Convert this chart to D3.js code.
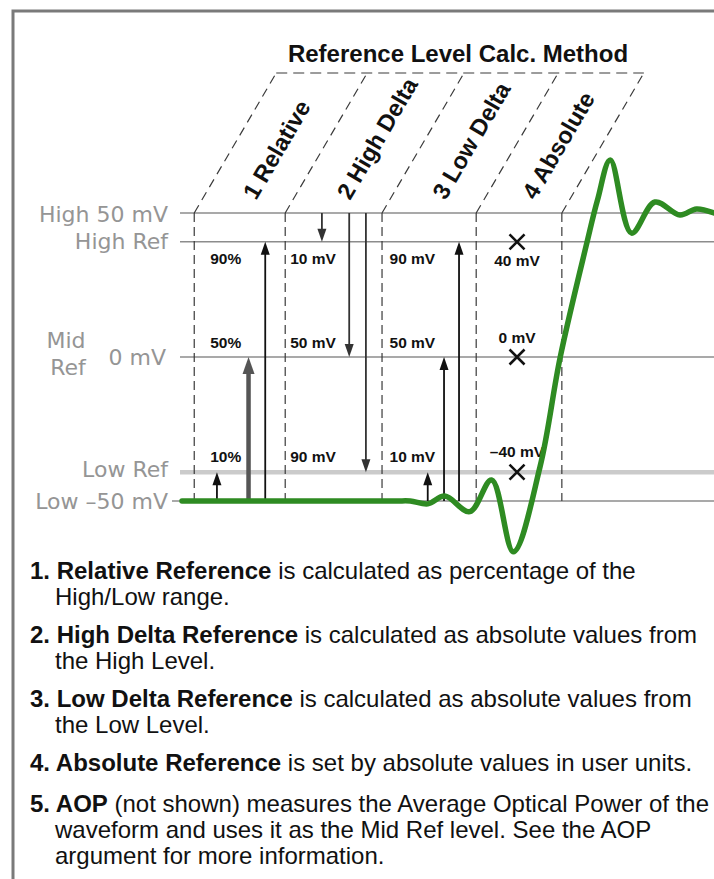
<!DOCTYPE html>
<html><head><meta charset="utf-8">
<script src="https://cdn.jsdelivr.net/npm/d3@7"></script>
<style>html,body{margin:0;padding:0;background:#fff;} svg{display:block;}</style>
</head><body>
<svg id="chart" width="714" height="879"></svg>
<script>
// ---------------- data ----------------
const title = "Reference Level Calc. Method";
const methods = ["1 Relative", "2 High Delta", "3 Low Delta", "4 Absolute"];
const levelLabels = ["High 50 mV", "High Ref", "0 mV", "Low Ref", "Low –50 mV"];
const levelValues = [50, 40, 0, -40, -50];
const refValues = [40, 0, -40];            // High Ref, Mid Ref, Low Ref (mV)
const relativeLabels = ["90%", "50%", "10%"];
const highDeltaLabels = ["10 mV", "50 mV", "90 mV"];
const lowDeltaLabels = ["90 mV", "50 mV", "10 mV"];
const absoluteLabels = ["40 mV", "0 mV", "–40 mV"];
// waveform (time in arbitrary units 0..100, amplitude in mV)
const waveTime = [0, 40, 42.9, 46.2, 49.4, 54.1, 58.2, 62.3, 67.3, 71.1, 76.1, 78.1, 80.5, 84.5, 88.9, 93.6, 96.7, 100];
const waveMv   = [-50, -50, -50, -51, -48.3, -53.7, -42.7, -67.6, -38.1, 0, 39.6, 54.5, 68.4, 43, 53.8, 49.3, 51.4, 50];
// arrows: [from mV, to mV]
const arrowFrom = [-50, -50, -50, 50, 50, 50, -50, -50, -50];
const arrowTo   = [-40, 0, 40, 40, 0, -40, -40, 0, 40];
// notes
const notes = [
  [[["1. ", 1], ["Relative Reference", 1], [" is calculated as percentage of the", 0]], [["High/Low range.", 0]]],
  [[["2. ", 1], ["High Delta Reference", 1], [" is calculated as absolute values from", 0]], [["the High Level.", 0]]],
  [[["3. ", 1], ["Low Delta Reference", 1], [" is calculated as absolute values from", 0]], [["the Low Level.", 0]]],
  [[["4. ", 1], ["Absolute Reference", 1], [" is set by absolute values in user units.", 0]]],
  [[["5. ", 1], ["AOP", 1], [" (not shown) measures the Average Optical Power of the", 0]],
   [["waveform and uses it as the Mid Ref level. See the AOP", 0]],
   [["argument for more information.", 0]]]
];

// ---------------- layout ----------------
const svg = d3.select("#chart");
const x = d3.scaleLinear().domain([0, 100]).range([182, 714]);
const y = d3.scaleLinear().domain([-50, 50]).range([501, 213]);
const colEdgesT = [2.3, 19.4, 37.6, 55.3, 71.4];
const colEdges = colEdgesT.map(x);
const slantTopY = 73, slantDx = 82;
const arrowCol = [0, 0, 0, 1, 1, 1, 2, 2, 2];
const arrowOff = [22.7, 54.3, 71, 36.7, 64, 80.7, 45.7, 62, 77];
const SANS = "'Liberation Sans', Arial, Helvetica, sans-serif";
const WIDE = "'DejaVu Sans', Verdana, sans-serif";

// frame
svg.append("path").attr("d", "M13,879 V11 H714").attr("fill", "none")
  .attr("stroke", "#7a7a7a").attr("stroke-width", 3);

// level lines
levelValues.forEach((v, i) => {
  const isLowRef = v === -40;
  svg.append("line")
    .attr("x1", v === -50 ? 172 : 180).attr("x2", 714)
    .attr("y1", y(v)).attr("y2", y(v))
    .attr("stroke", isLowRef ? "#cbcbcb" : "#8c8c8c")
    .attr("stroke-width", isLowRef ? 4.5 : 1.5);
});

// level labels
const lblG = svg.append("g").attr("font-family", WIDE).attr("font-size", 22).attr("fill", "#959595");
levelValues.forEach((v, i) => {
  const dy = v === -40 ? -3 : (v === 50 ? 1.5 : 0);
  lblG.append("text").attr("x", v === 0 ? 166 : 168).attr("y", y(v) + dy)
    .attr("text-anchor", "end").attr("dominant-baseline", "central").text(levelLabels[i]);
});
lblG.append("text").attr("x", 66).attr("y", y(0) - 17).attr("text-anchor", "middle")
  .attr("dominant-baseline", "central").text("Mid");
lblG.append("text").attr("x", 68).attr("y", y(0) + 10).attr("text-anchor", "middle")
  .attr("dominant-baseline", "central").text("Ref");

// dashed column dividers
const dashG = svg.append("g").attr("stroke", "#3a3a3a").attr("stroke-width", 1.2).attr("fill", "none");
colEdges.forEach(cx => {
  dashG.append("line").attr("x1", cx).attr("x2", cx).attr("y1", y(50)).attr("y2", y(-50))
    .attr("stroke-dasharray", "9,5");
  dashG.append("line").attr("x1", cx).attr("y1", y(50)).attr("x2", cx + slantDx).attr("y2", slantTopY)
    .attr("stroke-dasharray", "9,6");
});
dashG.append("line").attr("x1", colEdges[0] + slantDx).attr("x2", colEdges[4] + slantDx)
  .attr("y1", slantTopY).attr("y2", slantTopY).attr("stroke-dasharray", "11,6");

// title
svg.append("text").attr("x", 458).attr("y", 62).attr("text-anchor", "middle")
  .attr("font-family", SANS).attr("font-weight", "bold").attr("font-size", 24)
  .attr("fill", "#111").text(title);

// method labels (rotated along slant)
const ang = -Math.atan2(y(50) - slantTopY, slantDx) * 180 / Math.PI;
const off = (213 - 197) * slantDx / (y(50) - slantTopY);
methods.forEach((m, i) => {
  const cx = (colEdges[i] + colEdges[i + 1]) / 2 + off;
  svg.append("text").attr("transform", `translate(${cx},197) rotate(${ang})`)
    .attr("font-family", SANS).attr("font-weight", "bold").attr("font-size", 23.5)
    .attr("dominant-baseline", "central").attr("fill", "#111").text(m);
});

// arrows
const arrowG = svg.append("g");
arrowFrom.forEach((f, i) => {
  const ax = colEdges[arrowCol[i]] + arrowOff[i];
  const t = arrowTo[i];
  const dir = t > f ? -1 : 1;
  const thick = (i === 1);
  const hl = thick ? 17 : 13, hw = thick ? 12 : 9;
  const col = thick ? "#555" : (arrowCol[i] === 1 ? "#333" : "#111");
  const tipY = y(t);
  arrowG.append("line").attr("x1", ax).attr("x2", ax).attr("y1", y(f)).attr("y2", tipY - dir * hl * 0.5)
    .attr("stroke", col).attr("stroke-width", thick ? 4.5 : 1.8);
  arrowG.append("path")
    .attr("d", `M${ax},${tipY} L${ax - hw / 2},${tipY - dir * hl} L${ax + hw / 2},${tipY - dir * hl} Z`)
    .attr("fill", col);
});

// column value labels
const valG = svg.append("g").attr("font-family", SANS).attr("font-weight", "bold")
  .attr("font-size", 15.5).attr("fill", "#111");
const rowDy = [17, -15, -16];
const colSets = [relativeLabels, highDeltaLabels, lowDeltaLabels];
const colLabelOff = [16, 5, 7.5];
colSets.forEach((set, c) => {
  set.forEach((s, r) => {
    valG.append("text").attr("x", colEdges[c] + colLabelOff[c]).attr("y", y(refValues[r]) + rowDy[r])
      .attr("dominant-baseline", "central").text(s);
  });
});
// absolute column: X markers + labels
const absX = (colEdges[3] + colEdges[4]) / 2 - 2;
const absDy = [19, -20, -21];
absoluteLabels.forEach((s, r) => {
  const ry = y(refValues[r]);
  valG.append("text").attr("x", absX).attr("y", ry + absDy[r]).attr("text-anchor", "middle")
    .attr("dominant-baseline", "central").text(s);
  const k = 7.5;
  svg.append("path").attr("d", `M${absX - k},${ry - k} L${absX + k},${ry + k} M${absX + k},${ry - k} L${absX - k},${ry + k}`)
    .attr("stroke", "#111").attr("stroke-width", 2.6);
});

// waveform
const line = d3.line().x(d => x(d[0])).y(d => y(d[1])).curve(d3.curveCatmullRom.alpha(0.5));
svg.append("path").datum(waveTime.map((t, i) => [t, waveMv[i]]))
  .attr("d", line).attr("fill", "none").attr("stroke", "#2e8b22").attr("stroke-width", 5.5)
  .attr("stroke-linejoin", "round").attr("stroke-linecap", "round");

// notes
const noteG = svg.append("g").attr("font-family", SANS).attr("font-size", 24).attr("fill", "#111");
const firstBase = [579, 643, 707, 771, 812];
const lineGap = 26;
notes.forEach((item, k) => {
  item.forEach((ln, j) => {
    const t = noteG.append("text").attr("x", j === 0 ? 30 : 55).attr("y", firstBase[k] + j * lineGap);
    ln.forEach(seg => t.append("tspan").attr("font-weight", seg[1] ? "bold" : "normal").text(seg[0]));
  });
});
</script>
</body></html>
